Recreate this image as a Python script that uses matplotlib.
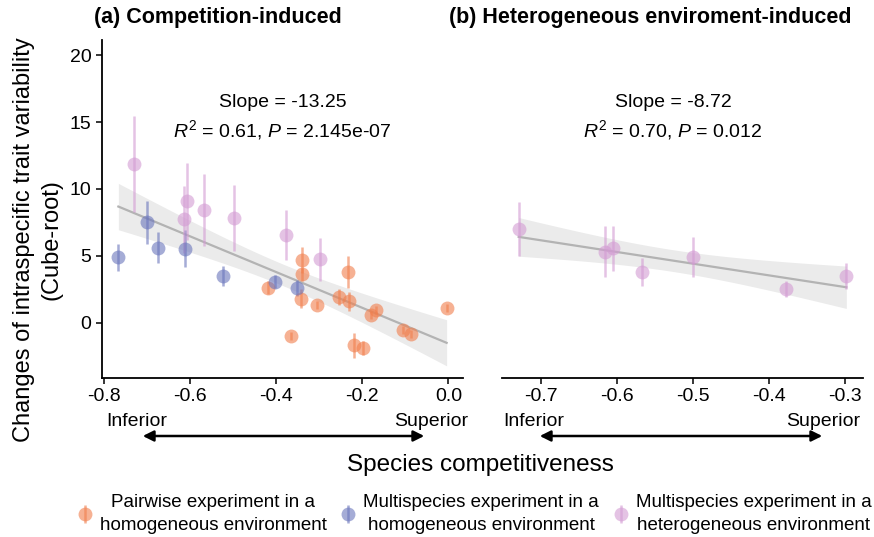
import numpy as np
import matplotlib
matplotlib.use("Agg")
import matplotlib.pyplot as plt

plt.rcParams['font.family'] = ['Liberation Sans', 'DejaVu Sans']
plt.rcParams['axes.unicode_minus'] = False
plt.rcParams['mathtext.fontset'] = 'custom'
plt.rcParams['mathtext.rm'] = 'Liberation Sans'
plt.rcParams['mathtext.it'] = 'Liberation Sans:italic'

# ---------------- data ----------------
# Panel (a): competition-induced
pair_x = [-0.419, -0.366, -0.339, -0.339, -0.343, -0.306, -0.234, -0.253,
          -0.231, -0.219, -0.199, -0.180, -0.167, -0.105, -0.087, -0.004]
pair_y = [2.61, -0.98, 4.69, 3.61, 1.80, 1.33, 3.81, 1.90,
          1.60, -1.70, -1.90, 0.60, 0.93, -0.53, -0.83, 1.10]
pair_e = [0.5, 0.3, 1.0, 0.5, 0.7, 0.3, 1.2, 0.6,
          0.7, 0.95, 0.5, 0.3, 0.3, 0.3, 0.3, 0.3]

multi_x = [-0.766, -0.700, -0.674, -0.612, -0.523, -0.403, -0.351]
multi_y = [4.89, 7.49, 5.61, 5.54, 3.46, 3.06, 2.61]
multi_e = [1.0, 1.6, 1.15, 1.4, 0.75, 0.5, 0.6]

het_x = [-0.729, -0.614, -0.606, -0.568, -0.498, -0.376, -0.297]
het_y = [11.88, 7.74, 9.07, 8.44, 7.82, 6.54, 4.74]
het_e = [3.6, 2.5, 2.9, 2.7, 2.5, 1.85, 1.6]

# Panel (b): heterogeneous environment-induced
b_x = [-0.730, -0.616, -0.605, -0.568, -0.500, -0.378, -0.298]
b_y = [6.99, 5.31, 5.56, 3.81, 4.91, 2.48, 3.48]
b_e = [2.0, 1.9, 1.7, 1.05, 1.5, 0.6, 0.95]

stats_a = ["Slope = -13.25", r"$R^2$ = 0.61, $P$ = 2.145e-07"]
stats_b = ["Slope = -8.72", r"$R^2$ = 0.70, $P$ = 0.012"]

labels = ["Pairwise experiment in a\nhomogeneous environment",
          "Multispecies experiment in a\nhomogeneous environment",
          "Multispecies experiment in a\nheterogeneous environment"]
colors = ["#F17E4C", "#6A75BC", "#D39BD3"]

xticks_a = [-0.8, -0.6, -0.4, -0.2, 0.0]
xticks_b = [-0.7, -0.6, -0.5, -0.4, -0.3]
yticks = [0, 5, 10, 15, 20]

# t quantiles (0.975) for 95% confidence bands
T975 = {28: 2.0484, 5: 2.5706}

W, H = 874, 537
fig = plt.figure(figsize=(W / 100, H / 100), dpi=100)


def fx(px):
    return px / W


def fy(py):
    return 1 - py / H


ax1 = fig.add_axes([fx(102), fy(378), fx(463) - fx(102), fy(40) - fy(378)])
ax2 = fig.add_axes([fx(502), fy(378), fx(863) - fx(502), fy(40) - fy(378)])


def smooth(ax, x, y):
    x = np.asarray(x, float)
    y = np.asarray(y, float)
    n = len(x)
    b, a = np.polyfit(x, y, 1)
    xs = np.linspace(x.min(), x.max(), 200)
    yhat = a + b * xs
    resid = y - (a + b * x)
    s = np.sqrt(np.sum(resid ** 2) / (n - 2))
    sxx = np.sum((x - x.mean()) ** 2)
    se = s * np.sqrt(1 / n + (xs - x.mean()) ** 2 / sxx)
    t = T975[n - 2]
    ax.fill_between(xs, yhat - t * se, yhat + t * se, color="#EBEBEB", lw=0, zorder=1)
    ax.plot(xs, yhat, color="#B3B3B3", lw=1.6, zorder=2)


kw = dict(fmt='o', ms=10, mec='none', elinewidth=1.8, capsize=0, alpha=0.6, zorder=3)

all_x = pair_x + multi_x + het_x
all_y = pair_y + multi_y + het_y
smooth(ax1, all_x, all_y)
h1 = ax1.errorbar(pair_x, pair_y, yerr=pair_e, color=colors[0], **kw)
h2 = ax1.errorbar(multi_x, multi_y, yerr=multi_e, color=colors[1], **kw)
h3 = ax1.errorbar(het_x, het_y, yerr=het_e, color=colors[2], **kw)

smooth(ax2, b_x, b_y)
ax2.errorbar(b_x, b_y, yerr=b_e, color=colors[2], **kw)

for ax in (ax1, ax2):
    ax.set_ylim(-4.15, 21.15)
    for s in ("top", "right"):
        ax.spines[s].set_visible(False)
    ax.spines["bottom"].set_linewidth(1.3)
    ax.spines["left"].set_linewidth(1.3)
    ax.tick_params(labelsize=14, width=1.1, length=4, colors="black")

ax1.set_xlim(-0.804, 0.034)
ax1.set_xticks(xticks_a)
ax1.set_xticklabels([f"{v:.1f}" for v in xticks_a])
ax1.set_yticks(yticks)

ax2.set_xlim(-0.752, -0.276)
ax2.set_xticks(xticks_b)
ax2.set_xticklabels([f"{v:.1f}" for v in xticks_b])
ax2.spines["left"].set_visible(False)
ax2.tick_params(axis='y', left=False, labelleft=False)

# stats annotations
ax1.text(0.5, 0.814, stats_a[0], transform=ax1.transAxes, ha='center', va='center', fontsize=14)
ax1.text(0.5, 0.734, stats_a[1], transform=ax1.transAxes, ha='center', va='center', fontsize=14)
ax2.text(0.474, 0.814, stats_b[0], transform=ax2.transAxes, ha='center', va='center', fontsize=14)
ax2.text(0.474, 0.734, stats_b[1], transform=ax2.transAxes, ha='center', va='center', fontsize=14)

# titles
fig.text(fx(94), fy(18), "(a) Competition-induced", fontsize=15.5, fontweight='bold',
         ha='left', va='center')
fig.text(fx(449), fy(18), "(b) Heterogeneous enviroment-induced", fontsize=15.5,
         fontweight='bold', ha='left', va='center')

# axis labels
fig.text(fx(38), fy(240), "Changes of intraspecific trait variability\n(Cube-root)",
         rotation=90, ha='center', va='center', fontsize=17, linespacing=1.35,
         multialignment='center')
fig.text(fx(480), fy(465), "Species competitiveness", ha='center', va='center', fontsize=17.5)

# Inferior / Superior with arrows
for xl, xr, al, ar in ((106, 468, 140, 427), (503, 860, 537, 825)):
    fig.text(fx(xl), fy(422), "Inferior", ha='left', va='center', fontsize=14)
    fig.text(fx(xr), fy(422), "Superior", ha='right', va='center', fontsize=14)
    fig.add_artist(matplotlib.patches.FancyArrowPatch(
        (fx(al), fy(436)), (fx(ar), fy(436)), transform=fig.transFigure,
        arrowstyle='<|-|>', mutation_scale=16, lw=1.8, color='black'))

# legend
leg = fig.legend([h1, h2, h3], labels, ncol=3, loc='center', bbox_to_anchor=(fx(474), fy(514)),
                 frameon=False, fontsize=13.5, handlelength=0.9, handletextpad=0.35,
                 columnspacing=0.7, borderpad=0)
for t in leg.get_texts():
    t.set_multialignment('center')
    t.set_linespacing(1.45)

fig.savefig("out.png", dpi=100)
